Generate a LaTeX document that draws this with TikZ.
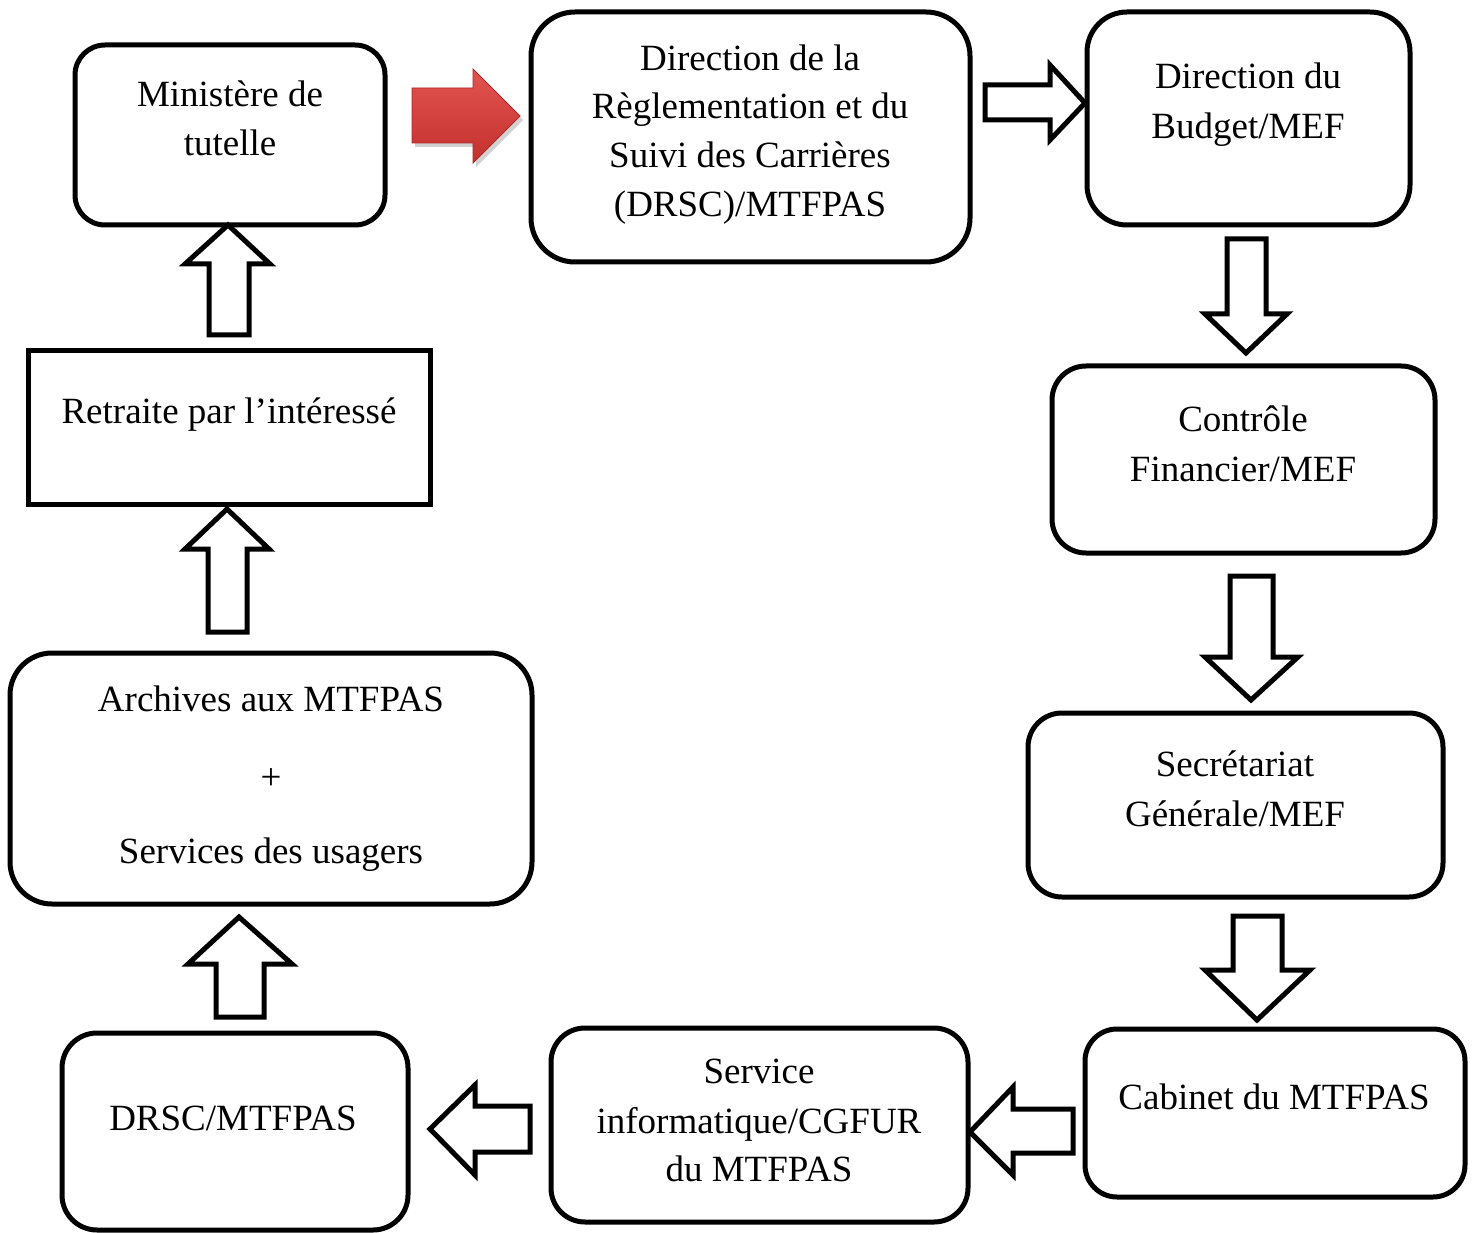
\documentclass[tikz,border=0pt]{standalone}
\usepackage{fontspec}
\setmainfont{Liberation Serif}
\definecolor{redA}{RGB}{226,84,80}
\definecolor{redB}{RGB}{196,48,46}
\definecolor{redE}{RGB}{170,40,38}
\begin{document}
\begin{tikzpicture}[x=1pt,y=-1pt,
  box/.style={draw, line width=5pt, inner sep=0pt, outer sep=0pt, anchor=north west},
  txt/.style={anchor=base, inner sep=0pt, font=\fontsize{37}{49}\selectfont},
  barrow/.style={draw, fill=white, line width=5pt, line join=miter, miter limit=10}]
\useasboundingbox (0,0) rectangle (1473,1233);
% boxes
\node[box, rounded corners=30pt, minimum width=310pt, minimum height=180pt] (min) at (75,45) {};
\node[box, rounded corners=44pt, minimum width=439pt, minimum height=250pt] (drsc) at (531,12) {};
\node[box, rounded corners=40pt, minimum width=323pt, minimum height=213pt] (bud) at (1087,12) {};
\node[box, rounded corners=34pt, minimum width=383pt, minimum height=187pt] (ctrl) at (1052,366) {};
\node[box, rounded corners=34pt, minimum width=415pt, minimum height=184pt] (sec) at (1028,713) {};
\node[box, rounded corners=32pt, minimum width=380pt, minimum height=168pt] (cab) at (1085,1029) {};
\node[box, rounded corners=34pt, minimum width=417pt, minimum height=194pt] (serv) at (551,1028) {};
\node[box, rounded corners=35pt, minimum width=346pt, minimum height=197pt] (drscb) at (62,1033) {};
\node[box, rounded corners=42pt, minimum width=522pt, minimum height=251pt] (arch) at (10,653) {};
\node[box, minimum width=402pt, minimum height=153pt] (ret) at (28,351) {};
% texts
\node[txt] (minA) at (230,107) {Ministère de};
\node[txt] (minB) at (230,156) {tutelle};
\node[txt] (drscA) at (750,71) {Direction de la};
\node[txt] (drscB) at (750,119) {Règlementation et du};
\node[txt] (drscC) at (750,168) {Suivi des Carrières};
\node[txt] (drscD) at (750,217) {(DRSC)/MTFPAS};
\node[txt] (budA) at (1248,89) {Direction du};
\node[txt] (budB) at (1248,139) {Budget/MEF};
\node[txt] (ctrlA) at (1243,431) {Contrôle};
\node[txt] (ctrlB) at (1243,481) {Financier/MEF};
\node[txt] (secA) at (1235,776) {Secrétariat};
\node[txt] (secB) at (1235,826) {Générale/MEF};
\node[txt] (cabA) at (1274,1109) {Cabinet du MTFPAS};
\node[txt] (servA) at (759,1083) {Service};
\node[txt] (servB) at (759,1133) {informatique/CGFUR};
\node[txt] (servC) at (759,1181) {du MTFPAS};
\node[txt] (drscbA) at (233,1130) {DRSC/MTFPAS};
\node[txt] (archA) at (271,711) {Archives aux MTFPAS};
\node[txt] (archB) at (271,789) {+};
\node[txt] (archC) at (271,863) {Services des usagers};
\node[txt] (retA) at (229,423) {Retraite par l’intéressé};
% red arrow
\fill[black!18] (415,92) -- (476,92) -- (476,73) -- (523,120) -- (476,167) -- (476,147) -- (415,147) -- cycle;
\shade[top color=redA, bottom color=redB, draw=redE, line width=0.8pt]
  (412,88) -- (473,88) -- (473,69) -- (520,116) -- (473,163) -- (473,143) -- (412,143) -- cycle;
% white block arrows
\draw[barrow] (985,85) -- (1050,85) -- (1050,65) -- (1085,103) -- (1050,140) -- (1050,120) -- (985,120) -- cycle;
\draw[barrow] (1227,239) -- (1266,239) -- (1266,314) -- (1287,314) -- (1246,353) -- (1205,314) -- (1227,314) -- cycle;
\draw[barrow] (1230,576) -- (1273,576) -- (1273,657) -- (1298,657) -- (1251,700) -- (1205,657) -- (1230,657) -- cycle;
\draw[barrow] (1233,916) -- (1282,916) -- (1282,970) -- (1310,970) -- (1257,1020) -- (1205,970) -- (1233,970) -- cycle;
\draw[barrow] (1073,1109) -- (1013,1109) -- (1013,1087) -- (970,1132) -- (1013,1175) -- (1013,1153) -- (1073,1153) -- cycle;
\draw[barrow] (530,1106) -- (475,1106) -- (475,1085) -- (430,1129) -- (475,1175) -- (475,1152) -- (530,1152) -- cycle;
\draw[barrow] (216,1017) -- (216,964) -- (188,964) -- (239,917) -- (292,964) -- (264,964) -- (264,1017) -- cycle;
\draw[barrow] (208,632) -- (208,549) -- (185,549) -- (227,509) -- (269,549) -- (247,549) -- (247,632) -- cycle;
\draw[barrow] (209,335) -- (209,264) -- (185,264) -- (228,225) -- (270,264) -- (249,264) -- (249,335) -- cycle;
\end{tikzpicture}
\end{document}
